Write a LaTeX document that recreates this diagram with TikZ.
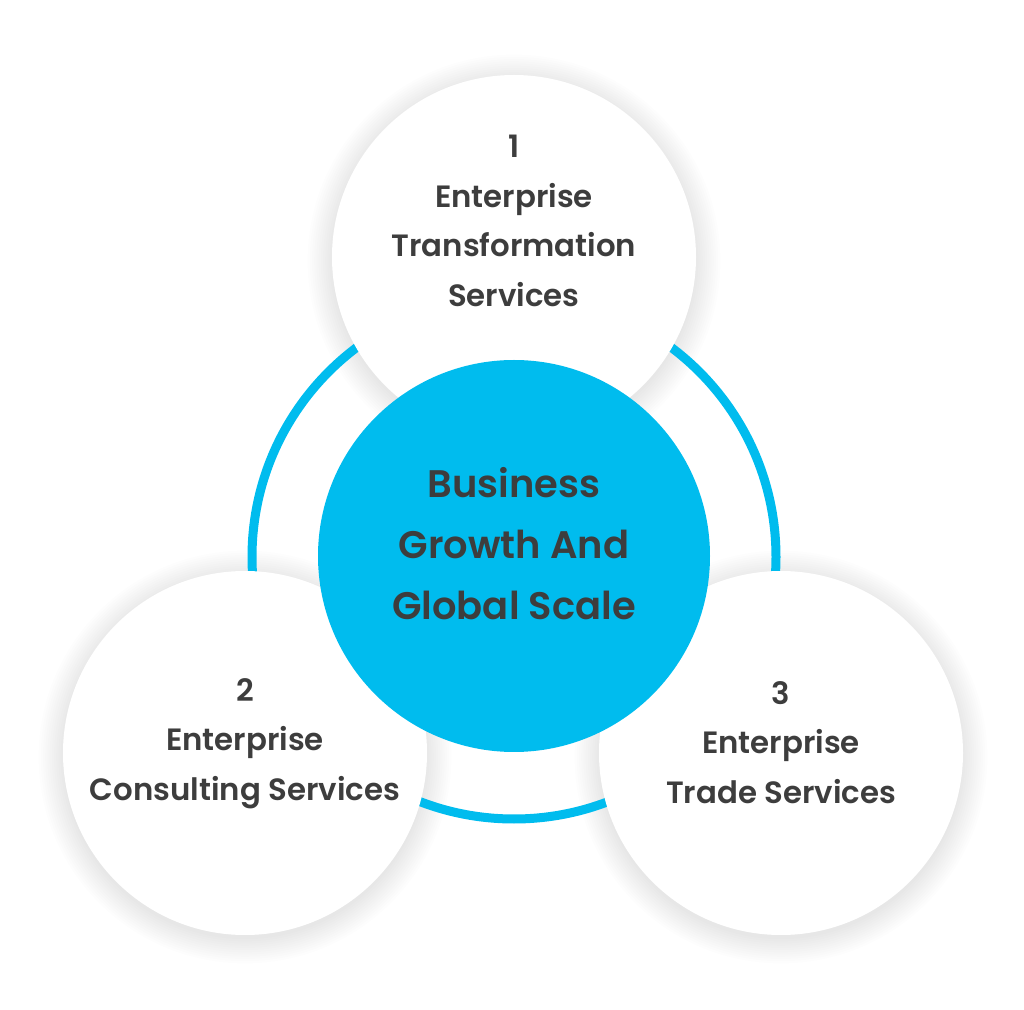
\documentclass[tikz,border=0pt]{standalone}
\usepackage{fontspec}
\setmainfont{Poppins}[BoldFont={Poppins SemiBold}]
\definecolor{skyblue}{HTML}{00BCEE}
\definecolor{inkgray}{HTML}{3D3D3D}

\begin{document}
\begin{tikzpicture}[x=0.5pt, y=-0.5pt,
        hub/.style = {circle, fill=skyblue, inner sep=0pt, minimum size=196pt},
        svc/.style = {circle, fill=white, inner sep=0pt, minimum size=182pt},
        orbit/.style = {circle, draw=skyblue, line width=4.5pt, inner sep=0pt, minimum size=262pt},
        svctext/.style = {align=center, text=inkgray, font=\bfseries\fontsize{15.4}{24.8}\selectfont},
        hubtext/.style = {align=center, text=inkgray, font=\bfseries\fontsize{19.2}{30.5}\selectfont}]
            \useasboundingbox (0,0) rectangle (1024,1010);

            \coordinate (posA) at (514,257);
            \coordinate (posB) at (245,753);
            \coordinate (posC) at (781,753);

            % soft shadows under the service circles
            \foreach \p in {posA,posB,posC}
                \foreach \k in {1,...,12}
                    \fill[black, opacity=0.009] ([yshift=-2pt]\p) circle[radius=90pt+\k*1.1pt];

            \node[orbit] (ring) at (514,557) {};

            \node[svc] (svcA) at (posA) {};
            \node[svc] (svcB) at (posB) {};
            \node[svc] (svcC) at (posC) {};

            \node[hub] (hub) at (514,556) {};

            \node[hubtext] (hubLabel) at ([yshift=6pt]hub.center) {Business\\Growth And\\Global Scale};
            \node[svctext] (labelA) at ([yshift=18pt]svcA.center) {1\\Enterprise\\Transformation\\Services};
            \node[svctext] (labelB) at ([yshift=4.8pt]svcB.center) {2\\Enterprise\\Consulting Services};
            \node[svctext] (labelC) at ([yshift=5.3pt]svcC.center) {3\\Enterprise\\Trade Services};
        \end{tikzpicture}
\end{document}
